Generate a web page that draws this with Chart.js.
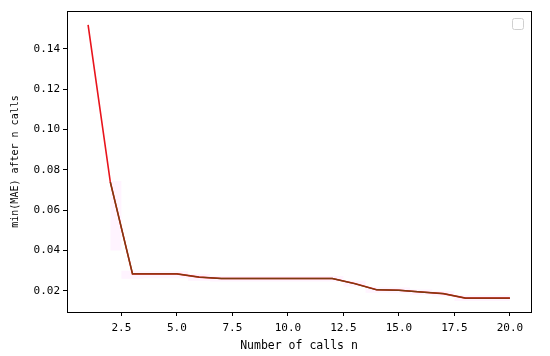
<!DOCTYPE html>
<html>
<head>
<meta charset="utf-8">
<script src="https://cdn.jsdelivr.net/npm/chart.js@4.4.1/dist/chart.umd.min.js"></script>
<style>
html,body{margin:0;padding:0;background:#fff;}
#wrap{width:550px;height:356px;position:relative;}
</style>
</head>
<body>
<div id="wrap"><canvas id="c" width="550" height="356"></canvas></div>
<script>
const calls = [1,2,3,4,5,6,7,8,9,10,11,12,13,14,15,16,17,18,19,20];
const minMAE = [0.1519,0.0740,0.0284,0.0284,0.0284,0.0268,0.0261,0.0261,0.0261,0.0261,0.0261,0.0261,0.0236,0.0205,0.0203,0.0194,0.0186,0.0164,0.0164,0.0164];
const minMAE2 = [null,0.0740,0.0284,0.0284,0.0284,0.0268,0.0261,0.0261,0.0261,0.0261,0.0261,0.0261,0.0236,0.0205,0.0203,0.0194,0.0186,0.0164,0.0164,0.0164];
const bandUpper = [null,0.0745,0.0300,0.0298,0.0298,0.0283,0.0274,0.0274,0.0274,0.0274,0.0274,0.0274,0.0250,0.0218,0.0216,0.0207,0.0199,0.0178,0.0178,0.0178];
const bandLower = [null,0.0400,0.0260,0.0262,0.0262,0.0250,0.0246,0.0246,0.0246,0.0246,0.0246,0.0246,0.0222,0.0190,0.0188,0.0180,0.0172,0.0150,0.0150,0.0150];
const xTicks = [2.5,5.0,7.5,10.0,12.5,15.0,17.5,20.0];
const yTicks = [0.02,0.04,0.06,0.08,0.10,0.12,0.14];

const pts = (ys) => calls.map((x,i)=>({x:x,y:ys[i]}));

const framePlugin = {
  id:'frame',
  afterDraw(chart){
    const a = chart.chartArea, ctx = chart.ctx;
    ctx.save();
    ctx.strokeStyle = '#000';
    ctx.lineWidth = 1;
    ctx.strokeRect(Math.round(a.left)+0.5, Math.round(a.top)+0.5, Math.round(a.right-a.left), Math.round(a.bottom-a.top));
    const bx = a.right - 18.5, by = a.top + 7.5, s = 11, r = 2;
    ctx.strokeStyle = '#d0d0d0';
    ctx.fillStyle = '#fff';
    ctx.beginPath();
    ctx.moveTo(bx+r,by);ctx.lineTo(bx+s-r,by);ctx.quadraticCurveTo(bx+s,by,bx+s,by+r);
    ctx.lineTo(bx+s,by+s-r);ctx.quadraticCurveTo(bx+s,by+s,bx+s-r,by+s);
    ctx.lineTo(bx+r,by+s);ctx.quadraticCurveTo(bx,by+s,bx,by+s-r);
    ctx.lineTo(bx,by+r);ctx.quadraticCurveTo(bx,by,bx+r,by);
    ctx.closePath();ctx.fill();ctx.stroke();
    ctx.restore();
  }
};

const tickFont = {family:'"DejaVu Sans Mono", monospace', size:11};
new Chart(document.getElementById('c'), {
  type:'line',
  data:{
    datasets:[
      {order:3, data:pts(bandUpper), borderWidth:0, pointRadius:0, stepped:'middle', fill:'+1', backgroundColor:'rgba(255,120,255,0.08)', borderColor:'rgba(0,0,0,0)'},
      {order:4, data:pts(bandLower), borderWidth:0, pointRadius:0, stepped:'middle', fill:false, borderColor:'rgba(0,0,0,0)'},
      {order:2, data:pts(minMAE), borderColor:'#e8141c', borderWidth:1.6, pointRadius:0, fill:false, tension:0},
      {order:1, data:pts(minMAE2), borderColor:'#7a3c10', borderWidth:1.4, pointRadius:0, fill:false, tension:0}
    ]
  },
  options:{
    responsive:false,
    animation:false,
    layout:{padding:{left:0,top:11,right:19,bottom:0}},
    plugins:{legend:{display:false}, tooltip:{enabled:false}},
    scales:{
      x:{
        type:'linear', min:0.05, max:20.95,
        afterBuildTicks(s){ s.ticks = xTicks.map(v=>({value:v})); },
        afterFit(s){ s.height = 44; },
        grid:{drawOnChartArea:false, drawTicks:true, tickLength:4, color:'#000'},
        border:{color:'#000'},
        ticks:{font:tickFont, color:'#000', padding:6, maxRotation:0, callback:(v)=>Number(v).toFixed(1)},
        title:{display:true, text:'Number of calls n', color:'#000', font:{family:'"DejaVu Sans Mono", monospace', size:11.5}, padding:{top:0,bottom:3}}
      },
      y:{
        type:'linear', min:0.0095, max:0.1588,
        afterBuildTicks(s){ s.ticks = yTicks.map(v=>({value:v})); },
        afterFit(s){ s.width = 67; },
        grid:{drawOnChartArea:false, drawTicks:true, tickLength:4, color:'#000'},
        border:{color:'#000'},
        ticks:{font:tickFont, color:'#000', padding:3, callback:(v)=>Number(v).toFixed(2)},
        title:{display:true, text:'min(MAE) after n calls', color:'#000', font:{family:'"DejaVu Sans Mono", monospace', size:10}, padding:{top:9,bottom:0}}
      }
    }
  },
  plugins:[framePlugin]
});
</script>
</body>
</html>
